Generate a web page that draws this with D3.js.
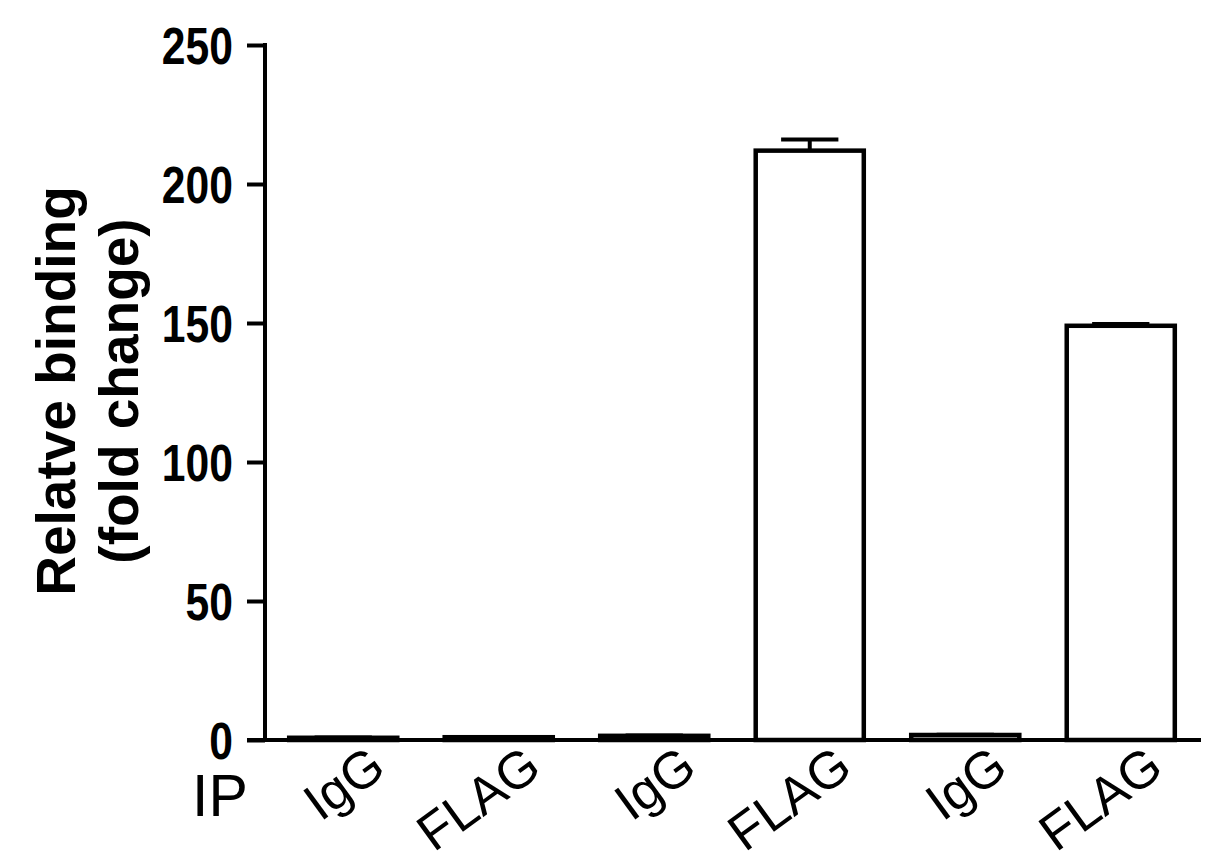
<!DOCTYPE html>
<html><head><meta charset="utf-8">
<script src="https://cdn.jsdelivr.net/npm/d3@7"></script>
<style>body{margin:0;background:#fff}</style>
</head><body>
<script>
const categories = ["IgG","FLAG","IgG","FLAG","IgG","FLAG"];
const values = [0.8, 1.0, 1.5, 212, 1.8, 149];
const errors = [0.1, 0.1, 0.1, 4, 0.1, 0.6];
const yTicks = [0, 50, 100, 150, 200, 250];
const axisGroupLabel = "IP";
const yTitle = ["Relatve binding", "(fold change)"];

const W = 1221, H = 858;
const svg = d3.select("body").append("svg").attr("width", W).attr("height", H);

const y = d3.scaleLinear().domain([0, 250]).range([740, 45]);
const x = d3.scaleBand().domain(d3.range(categories.length)).range([265, 1199])
  .paddingInner(0.305).paddingOuter(0.1556);

// y axis
const yAxis = d3.axisLeft(y).tickValues(yTicks).tickSize(18).tickPadding(14);
const gy = svg.append("g").attr("transform", "translate(265,0)").call(yAxis);
gy.select(".domain").attr("stroke-width", 4).attr("d", "M0,43V742");
gy.selectAll(".tick line").attr("stroke-width", 4);
const sx = 0.82;
gy.selectAll(".tick text")
  .attr("font-family", "'Liberation Sans', Arial, sans-serif")
  .attr("font-weight", "bold").attr("font-size", 52).attr("fill", "#000")
  .attr("x", -32 / sx)
  .attr("transform", `scale(${sx},1)`)
  .attr("dy", "0.36em");

// bars
svg.append("g").selectAll("rect").data(values).join("rect")
  .attr("x", (d, i) => x(i))
  .attr("y", d => y(d))
  .attr("width", x.bandwidth())
  .attr("height", d => y(0) - y(d))
  .attr("fill", "#fff").attr("stroke", "#000").attr("stroke-width", 4.5);

// error bars
const eg = svg.append("g").attr("stroke", "#000").attr("stroke-width", 4);
values.forEach((v, i) => {
  const cx = x(i) + x.bandwidth() / 2;
  const cw = x.bandwidth() * 0.53;
  eg.append("line").attr("x1", cx).attr("x2", cx).attr("y1", y(v)).attr("y2", y(v + errors[i]));
  eg.append("line").attr("x1", cx - cw / 2).attr("x2", cx + cw / 2).attr("y1", y(v + errors[i])).attr("y2", y(v + errors[i]));
});

// x axis line
svg.append("line").attr("x1", 247).attr("x2", 1201).attr("y1", y(0)).attr("y2", y(0))
  .attr("stroke", "#000").attr("stroke-width", 4);

// x labels
svg.append("g").selectAll("text").data(categories).join("text")
  .attr("transform", (d, i) => `translate(${x(i) + x.bandwidth() / 2 + 45},${773}) rotate(-36)`)
  .attr("text-anchor", "end")
  .attr("font-family", "'Liberation Sans', Arial, sans-serif")
  .attr("font-size", 52).attr("fill", "#000")
  .text(d => d);

svg.append("text").attr("x", 192).attr("y", 816)
  .attr("font-family", "'Liberation Sans', Arial, sans-serif")
  .attr("font-size", 59).attr("fill", "#000").text(axisGroupLabel);

// y label
const yl = svg.append("text").attr("transform", "translate(0,391) rotate(-90)")
  .attr("text-anchor", "middle")
  .attr("font-family", "'Liberation Sans', Arial, sans-serif")
  .attr("font-weight", "bold").attr("font-size", 55).attr("fill", "#000");
yl.append("tspan").attr("x", 0).attr("y", 75).text(yTitle[0]);
yl.append("tspan").attr("x", 0).attr("y", 138).text(yTitle[1]);
</script>
</body></html>
